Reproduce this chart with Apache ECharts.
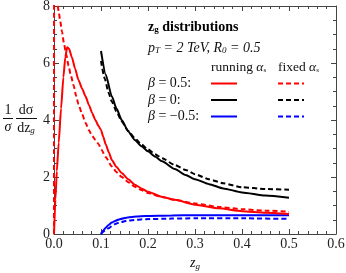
<!DOCTYPE html>
<html><head><meta charset="utf-8">
<script src="https://cdn.jsdelivr.net/npm/echarts@6/dist/echarts.min.js"></script>
<style>html,body{margin:0;padding:0;background:#fff}#c{width:346px;height:273px}</style>
</head><body><div id="c"></div>
<script>
// ---- data (z_g, 1/sigma dsigma/dz_g) ----
const xTicks = [0.0, 0.1, 0.2, 0.3, 0.4, 0.5, 0.6];
const yTicks = [0, 2, 4, 6, 8];
const redRunning = [[0,0],[0.003,1.2],[0.006,2.2],[0.01,3.2],[0.015,4.4],[0.02,5.5],[0.024,6.2],[0.028,6.55],[0.032,6.5],[0.038,6.2],[0.045,5.8],[0.052,5.4],[0.06,5.1],[0.067,4.83],[0.075,4.5],[0.081,4.25],[0.088,4.0],[0.095,3.78],[0.1,3.65],[0.105,3.4],[0.11,3.15],[0.117,2.85],[0.123,2.6],[0.133,2.35],[0.144,2.14],[0.158,1.92],[0.172,1.73],[0.186,1.6],[0.2,1.48],[0.229,1.31],[0.257,1.2],[0.3,1.03],[0.35,0.9],[0.4,0.8],[0.45,0.75],[0.5,0.7]];
const redFixed = [[0,0],[0.0002,12],[0.002,10],[0.004,9],[0.0064,8.2],[0.01,7.8],[0.013,7.5],[0.017,7.1],[0.021,6.7],[0.026,6.3],[0.031,5.9],[0.036,5.55],[0.042,5.2],[0.047,4.85],[0.052,4.55],[0.06,4.2],[0.067,3.9],[0.074,3.65],[0.081,3.45],[0.088,3.3],[0.095,3.15],[0.101,2.96],[0.11,2.7],[0.123,2.37],[0.133,2.17],[0.144,2.0],[0.158,1.82],[0.172,1.66],[0.186,1.54],[0.2,1.44],[0.229,1.3],[0.257,1.2],[0.3,1.07],[0.35,0.95],[0.4,0.87],[0.45,0.82],[0.5,0.78]];
const blackRunning = [[0.1,6.42],[0.11,5.6],[0.123,4.83],[0.133,4.4],[0.144,4.0],[0.158,3.6],[0.172,3.3],[0.186,3.08],[0.2,2.9],[0.215,2.72],[0.23,2.55],[0.257,2.28],[0.28,2.07],[0.3,1.92],[0.33,1.75],[0.36,1.6],[0.4,1.46],[0.45,1.35],[0.5,1.27]];
const blackFixed = [[0.1,6.07],[0.108,5.45],[0.116,4.96],[0.123,4.65],[0.133,4.3],[0.144,3.95],[0.158,3.62],[0.172,3.36],[0.186,3.14],[0.2,2.97],[0.215,2.8],[0.23,2.66],[0.257,2.42],[0.28,2.25],[0.3,2.1],[0.33,1.92],[0.36,1.78],[0.4,1.64],[0.45,1.58],[0.5,1.55]];
const blueRunning = [[0.1,0],[0.105,0.12],[0.11,0.22],[0.116,0.32],[0.123,0.4],[0.13,0.46],[0.14,0.52],[0.157,0.58],[0.175,0.61],[0.194,0.63],[0.25,0.65],[0.3,0.66],[0.4,0.66],[0.5,0.66]];
const blueFixed = [[0.1,0],[0.105,0.08],[0.11,0.14],[0.116,0.2],[0.123,0.28],[0.13,0.35],[0.14,0.41],[0.157,0.47],[0.175,0.5],[0.194,0.52],[0.25,0.54],[0.3,0.55],[0.4,0.55],[0.5,0.53]];
const betaLabels = ['β = 0.5:', 'β = 0:', 'β = −0.5:'];
const colors = ['#ff0000', '#000000', '#0000ff'];

const FONT = '"Liberation Serif","DejaVu Serif",serif';
const frame = '#444';
const chart = echarts.init(document.getElementById('c'), null, {renderer: 'canvas'});

function axisCommon(show) {
  return {
    axisLine: {show: true, onZero: false, lineStyle: {color: frame, width: 1}},
    axisTick: {show: true, inside: true, length: 5, lineStyle: {color: frame}},
    minorTick: {show: true, length: 3, lineStyle: {color: frame}},
    splitLine: {show: false},
    axisLabel: {show: show, color: '#222', fontFamily: FONT, fontSize: 14}
  };
}
function line(data, color, dashed, z) {
  return {type: 'line', data: data, xAxisIndex: 0, yAxisIndex: 0, showSymbol: false, symbol: 'none',
    smooth: 0.2, smoothMonotone: 'x', clip: true, z: z,
    lineStyle: {color: color, width: 2, type: dashed ? [5, 3] : 'solid'}};
}

const G = [];
// y-axis title as fractions
G.push({type: 'text', style: {text: '1', x: 8, y: 110, font: '14px ' + FONT, fill: '#111', textAlign: 'center', textVerticalAlign: 'middle'}});
G.push({type: 'line', shape: {x1: 3, y1: 118.5, x2: 13, y2: 118.5}, style: {stroke: '#111', lineWidth: 1}});
G.push({type: 'text', style: {text: 'σ', x: 8, y: 127, font: 'italic 14px ' + FONT, fill: '#111', textAlign: 'center', textVerticalAlign: 'middle'}});
G.push({type: 'text', style: {text: 'dσ', x: 26, y: 110, font: '14px ' + FONT, fill: '#111', textAlign: 'center', textVerticalAlign: 'middle'}});
G.push({type: 'line', shape: {x1: 16, y1: 118.5, x2: 37, y2: 118.5}, style: {stroke: '#111', lineWidth: 1}});
G.push({type: 'text', style: {text: '{a|dz}{b|g}', x: 26, y: 128, textAlign: 'center', textVerticalAlign: 'middle', fill: '#111',
  rich: {a: {fontFamily: FONT, fontSize: 14, fill: '#111'}, b: {fontFamily: FONT, fontSize: 9, fontStyle: 'italic', verticalAlign: 'bottom', padding: [6, 0, 0, 0]}}}});
// annotation block
G.push({type: 'text', style: {text: '{a|z}{b|g}{a| distributions}', x: 148, y: 27, textAlign: 'left', textVerticalAlign: 'middle',
  rich: {a: {fontFamily: FONT, fontSize: 14, fontWeight: 'bold', fill: '#000'}, b: {fontFamily: FONT, fontSize: 9, fontWeight: 'bold', fill: '#000', padding: [6, 0, 0, 0]}}}});
G.push({type: 'text', style: {text: '{a|p}{b|T}{a| = 2 TeV, R}{b|0}{a| = 0.5}', x: 148, y: 48, textAlign: 'left', textVerticalAlign: 'middle',
  rich: {a: {fontFamily: FONT, fontSize: 14, fontStyle: 'italic', fill: '#111'}, b: {fontFamily: FONT, fontSize: 9, fontStyle: 'italic', fill: '#111', padding: [6, 0, 0, 0]}}}});
G.push({type: 'text', style: {text: '{a|running }{c|α}{b|s}', x: 211, y: 67, textAlign: 'left', textVerticalAlign: 'middle',
  rich: {a: {fontFamily: FONT, fontSize: 13.5, fill: '#111'}, c: {fontFamily: FONT, fontSize: 13.5, fontStyle: 'italic', fill: '#111'}, b: {fontFamily: FONT, fontSize: 7, fill: '#111', padding: [6, 0, 0, 0]}}}});
G.push({type: 'text', style: {text: '{a|fixed }{c|α}{b|s}', x: 278, y: 67, textAlign: 'left', textVerticalAlign: 'middle',
  rich: {a: {fontFamily: FONT, fontSize: 13.5, fill: '#111'}, c: {fontFamily: FONT, fontSize: 13.5, fontStyle: 'italic', fill: '#111'}, b: {fontFamily: FONT, fontSize: 7, fill: '#111', padding: [6, 0, 0, 0]}}}});
const rowY = [83.5, 100, 116.5];
betaLabels.forEach((lab, i) => {
  G.push({type: 'text', style: {text: '{c|β}{a|' + lab.slice(1) + '}', x: 148, y: rowY[i], textAlign: 'left', textVerticalAlign: 'middle',
    rich: {a: {fontFamily: FONT, fontSize: 14, fill: '#111'}, c: {fontFamily: FONT, fontSize: 14, fontStyle: 'italic', fill: '#111'}}}});
  G.push({type: 'line', shape: {x1: 211, y1: rowY[i], x2: 237, y2: rowY[i]}, style: {stroke: colors[i], lineWidth: 2}});
  G.push({type: 'line', shape: {x1: 278, y1: rowY[i], x2: 304, y2: rowY[i]}, style: {stroke: colors[i], lineWidth: 2, lineDash: [5, 3]}});
});

chart.setOption({
  animation: false,
  backgroundColor: '#fff',
  grid: {left: 54, right: 10, top: 6, bottom: 39, containLabel: false, outerBoundsMode: 'none'},
  xAxis: [
    Object.assign({type: 'value', min: 0, max: 0.6, interval: 0.1, position: 'bottom',
      name: '{z|z}{g|g}', nameLocation: 'middle', nameGap: 21,
      nameTextStyle: {rich: {z: {fontFamily: FONT, fontSize: 14, fontStyle: 'italic', color: '#111'}, g: {fontFamily: FONT, fontSize: 9, fontStyle: 'italic', color: '#111', padding: [7, 0, 0, 0]}}},
    }, axisCommon(true), {minorTick: {show: true, splitNumber: 5, length: 3, lineStyle: {color: frame}},
      axisLabel: {show: true, color: '#222', fontFamily: FONT, fontSize: 14, margin: 3, formatter: v => xTicks.includes(Math.round(v * 10) / 10) ? v.toFixed(1) : ''}}),
    Object.assign({type: 'value', min: 0, max: 0.6, interval: 0.1, position: 'top'}, axisCommon(false),
      {minorTick: {show: true, splitNumber: 5, length: 3, lineStyle: {color: frame}}})
  ],
  yAxis: [
    Object.assign({type: 'value', min: 0, max: 8, interval: 2, position: 'left'}, axisCommon(true),
      {minorTick: {show: true, splitNumber: 4, length: 3, lineStyle: {color: frame}},
       axisLabel: {show: true, color: '#222', fontFamily: FONT, fontSize: 14, margin: 4, formatter: v => yTicks.includes(v) ? String(v) : ''}}),
    Object.assign({type: 'value', min: 0, max: 8, interval: 2, position: 'right'}, axisCommon(false),
      {minorTick: {show: true, splitNumber: 4, length: 3, lineStyle: {color: frame}}})
  ],
  series: [
    line(blueFixed, colors[2], true, 2),
    line(blueRunning, colors[2], false, 3),
    line(blackFixed, colors[1], true, 4),
    line(blackRunning, colors[1], false, 5),
    line(redFixed, colors[0], true, 6),
    line(redRunning, colors[0], false, 7)
  ],
  graphic: G
});
</script></body></html>
